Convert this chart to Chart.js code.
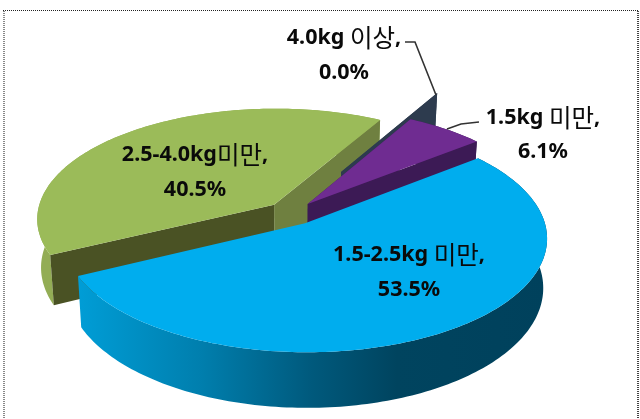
<!DOCTYPE html>
<html><head><meta charset="utf-8">
<style>html,body{margin:0;padding:0;background:#fff}canvas{display:block}</style>
<script src="https://cdn.jsdelivr.net/npm/chart.js@4/dist/chart.umd.min.js"></script>
</head><body><canvas id="c" width="640" height="419"></canvas>
<script>
const categories = ['1.5kg 미만', '1.5-2.5kg 미만', '2.5-4.0kg미만', '4.0kg 이상'];
const shares = [6.1, 53.5, 40.5, 0.0];
const explode = [0.11, 0.11, 0.105, 0.45];
const topColors = ['#6f2c91', '#00adee', '#9bbb59', '#2d3b4e'];
const rimColors = ['#3c1a55', null, '#93ad55', '#2d3b4e'];
const startCutColors = ['#3c1a55', null, '#4a5224', '#2d3b4e'];
const endCutColors = ['#3c1a55', null, '#6f8040', '#2d3b4e'];
const paintOrder = [2, 3, 0, 1];
const labelAnchors = [[543, 118, 152], [409, 255, 290], [195, 155, 190], [344, 38, 73]];

const cam = {cx: 291, cy: 213, A: 237, B: 110, q: 0.125, depth: 48, shrink: 0.985};
function proj(u, v, low) {
  const w = 1 - cam.q * v;
  let x = cam.A * u / w, y = cam.B * v / w;
  if (low) { x *= cam.shrink; y += cam.depth / w; }
  return [cam.cx + x, cam.cy + y];
}
function sliceGeom(arc, i) {
  const a0 = arc.startAngle, a1 = arc.endAngle, mid = (a0 + a1) / 2;
  const ox = explode[i] * Math.cos(mid), oy = explode[i] * Math.sin(mid);
  const n = Math.max(1, Math.ceil((a1 - a0) / 0.02));
  const rim = [];
  for (let k = 0; k <= n; k++) {
    const a = a0 + (a1 - a0) * k / n;
    rim.push([Math.cos(a) + ox, Math.sin(a) + oy]);
  }
  return {apex: [ox, oy], rim};
}
function poly(ctx, pts, fill) {
  ctx.beginPath();
  pts.forEach((p, k) => k ? ctx.lineTo(p[0], p[1]) : ctx.moveTo(p[0], p[1]));
  ctx.closePath();
  ctx.fillStyle = fill;
  ctx.fill();
}
function wall(ctx, a, b, fill) {
  if (!fill) return;
  poly(ctx, [proj(a[0], a[1]), proj(b[0], b[1]), proj(b[0], b[1], true), proj(a[0], a[1], true)], fill);
}
const pie3d = {
  id: 'pie3d',
  beforeDatasetsDraw(chart) {
    const ctx = chart.ctx, arcs = chart.getDatasetMeta(0).data;
    const blue = ctx.createLinearGradient(78, 0, 547, 0);
    blue.addColorStop(0, '#009dd6');
    blue.addColorStop(0.26, '#007fae');
    blue.addColorStop(0.5, '#00597c');
    blue.addColorStop(0.68, '#00445f');
    blue.addColorStop(1, '#00415c');
    paintOrder.forEach(i => {
      const g = sliceGeom(arcs[i], i), last = g.rim[g.rim.length - 1];
      const rimPts = g.rim.map(p => proj(p[0], p[1]));
      const lowPts = g.rim.map(p => proj(p[0], p[1], true)).reverse();
      poly(ctx, rimPts.concat(lowPts), rimColors[i] || blue);
      wall(ctx, g.apex, g.rim[0], startCutColors[i]);
      wall(ctx, g.apex, last, endCutColors[i]);
      poly(ctx, [proj(g.apex[0], g.apex[1])].concat(rimPts), topColors[i]);
    });
    return false;
  },
  beforeDatasetDraw() { return false; },
  afterDraw(chart) {
    const ctx = chart.ctx;
    ctx.save();
    ctx.lineWidth = 1; ctx.strokeStyle = '#222'; ctx.setLineDash([1, 1]);
    ctx.beginPath(); ctx.moveTo(3, 10.5); ctx.lineTo(639, 10.5); ctx.stroke();
    ctx.lineWidth = 2; ctx.strokeStyle = '#888';
    ctx.beginPath(); ctx.moveTo(4, 11); ctx.lineTo(4, 419); ctx.stroke();
    ctx.strokeStyle = '#444';
    ctx.beginPath(); ctx.moveTo(638, 11); ctx.lineTo(638, 419); ctx.stroke();
    ctx.setLineDash([]);
    ctx.lineWidth = 1.6; ctx.strokeStyle = '#333';
    ctx.beginPath(); ctx.moveTo(405, 42); ctx.lineTo(415, 42); ctx.lineTo(436, 95); ctx.stroke();
    ctx.beginPath(); ctx.moveTo(479, 122); ctx.lineTo(461, 124); ctx.lineTo(447, 129); ctx.stroke();
    ctx.fillStyle = '#0a0a0a'; ctx.textBaseline = 'middle'; ctx.textAlign = 'left';
    const latin = 'bold 21.5px "Noto Sans"', cjk = '24.5px "Noto Sans CJK KR"';
    const runs = s => s.match(/[\uAC00-\uD7A3]+|[^\uAC00-\uD7A3]+/g) || [];
    const fontOf = r => /[\uAC00-\uD7A3]/.test(r) ? cjk : latin;
    const width = s => runs(s).reduce((t, r) => { ctx.font = fontOf(r); return t + ctx.measureText(r).width; }, 0);
    const put = (s, cx, y) => {
      let x = cx - width(s) / 2;
      runs(s).forEach(r => { ctx.font = fontOf(r); ctx.fillText(r, x, y); x += ctx.measureText(r).width; });
    };
    categories.forEach((c, i) => {
      const [cx, y1, y2] = labelAnchors[i];
      put(c + ',', cx, y1);
      put(shares[i].toFixed(1) + '%', cx, y2);
    });
    ctx.restore();
  }
};
new Chart(document.getElementById('c'), {
  type: 'pie',
  data: {labels: categories, datasets: [{data: shares, backgroundColor: topColors, borderWidth: 0}]},
  options: {
    responsive: false, animation: false, rotation: 29.5,
    plugins: {legend: {display: false}, tooltip: {enabled: false}}
  },
  plugins: [pie3d]
});
</script></body></html>
